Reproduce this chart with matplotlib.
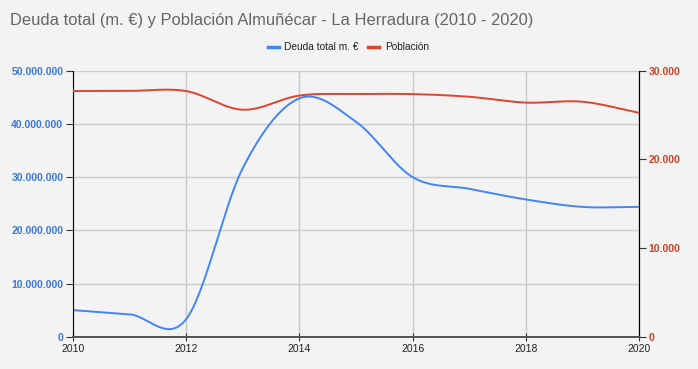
import matplotlib.pyplot as plt
import numpy as np
from matplotlib.ticker import FuncFormatter

plt.rcParams["font.family"] = ["Liberation Sans", "DejaVu Sans"]

years = [2010, 2011, 2012, 2013, 2014, 2015, 2016, 2017, 2018, 2019, 2020]
deuda = [5.0e6, 4.2e6, 3.3e6, 31.7e6, 44.8e6, 40.4e6, 30.0e6, 27.8e6, 25.8e6, 24.4e6, 24.4e6]
poblacion = [27700, 27720, 27700, 25600, 27200, 27360, 27360, 27060, 26400, 26500, 25250]

title = "Deuda total (m. €) y Población Almuñécar - La Herradura (2010 - 2020)"
label_deuda = "Deuda total m. €"
label_pob = "Población"

BLUE = "#4285f4"
RED = "#e0442f"
BG = "#f3f3f3"


def smooth(x, y, n=30, t=0.5):
    # cardinal spline through the points, like a "function" curve
    x = np.asarray(x, float)
    y = np.asarray(y, float)
    xs, ys = [], []
    for i in range(len(x) - 1):
        p0 = (x[i - 1], y[i - 1]) if i > 0 else (x[i], y[i])
        p1 = (x[i], y[i])
        p2 = (x[i + 1], y[i + 1])
        p3 = (x[i + 2], y[i + 2]) if i + 2 < len(x) else (x[i + 1], y[i + 1])
        m1 = t * (p2[1] - p0[1]) / (p2[0] - p0[0])
        m2 = t * (p3[1] - p1[1]) / (p3[0] - p1[0])
        h = p2[0] - p1[0]
        s = np.linspace(0, 1, n, endpoint=False)
        h00 = 2 * s**3 - 3 * s**2 + 1
        h10 = s**3 - 2 * s**2 + s
        h01 = -2 * s**3 + 3 * s**2
        h11 = s**3 - s**2
        xs.append(p1[0] + s * h)
        ys.append(h00 * p1[1] + h10 * h * m1 * 2 + h01 * p2[1] + h11 * h * m2 * 2)
    xs.append([x[-1]])
    ys.append([y[-1]])
    return np.concatenate(xs), np.concatenate(ys)


def dots(v, _):
    return f"{int(round(v)):,}".replace(",", ".")


fig = plt.figure(figsize=(6.98, 3.69), dpi=100, facecolor=BG)
ax = fig.add_axes([73 / 698, 1 - 336.7 / 369, (639 - 73) / 698, (336.7 - 70.7) / 369])
ax.set_facecolor(BG)
ax2 = ax.twinx()

ax.set_xlim(2010, 2020)
ax.set_ylim(0, 50e6)
ax2.set_ylim(0, 30000)
ax.set_xticks([2010, 2012, 2014, 2016, 2018, 2020])
ax.set_yticks(np.arange(0, 50e6 + 1, 10e6))
ax2.set_yticks([0, 10000, 20000, 30000])
ax.yaxis.set_major_formatter(FuncFormatter(dots))
ax2.yaxis.set_major_formatter(FuncFormatter(dots))

ax.grid(True, axis="y", color="#cccccc", linewidth=1)
ax.grid(True, axis="x", color="#c8c8c8", linewidth=1)
ax.set_axisbelow(True)

for a in (ax, ax2):
    a.spines["top"].set_visible(False)
    a.spines["left"].set_color("black")
    a.spines["right"].set_color("black")
    a.spines["bottom"].set_color("#555555")
    a.spines["bottom"].set_linewidth(1.3)
ax2.spines["left"].set_visible(False)

ax.tick_params(axis="y", length=5, color="#333333", labelsize=7.5,
               labelcolor="#3c78d8", pad=2)
ax.tick_params(axis="x", length=6, direction="inout", color="#333333",
               labelsize=7.5, labelcolor="#222222", pad=2)
ax2.tick_params(axis="y", length=5, color="#333333", labelsize=7.5,
                labelcolor="#cc4125", pad=2)
for lab in ax.get_yticklabels() + ax2.get_yticklabels():
    lab.set_fontweight("bold")

xs, ys = smooth(years, deuda)
ax.plot(xs, ys, color=BLUE, linewidth=1.4, solid_capstyle="round")
xs, ys = smooth(years, poblacion)
ax2.plot(xs, ys, color=RED, linewidth=1.4, solid_capstyle="round")

fig.text(10 / 698, 1 - 20 / 369, title, fontsize=11.9, color="#666666", va="center")

# legend
ly = 1 - 47 / 369
fig.lines.append(plt.Line2D([268 / 698, 279 / 698], [ly, ly], color=BLUE, lw=2.5,
                            transform=fig.transFigure))
fig.text(284 / 698, ly, label_deuda, fontsize=7.3, color="#222222", va="center")
fig.lines.append(plt.Line2D([368 / 698, 379 / 698], [ly, ly], color=RED, lw=2.5,
                            transform=fig.transFigure))
fig.text(385 / 698, ly, label_pob, fontsize=7.3, color="#222222", va="center")

fig.savefig("out.png", dpi=100, facecolor=BG)
